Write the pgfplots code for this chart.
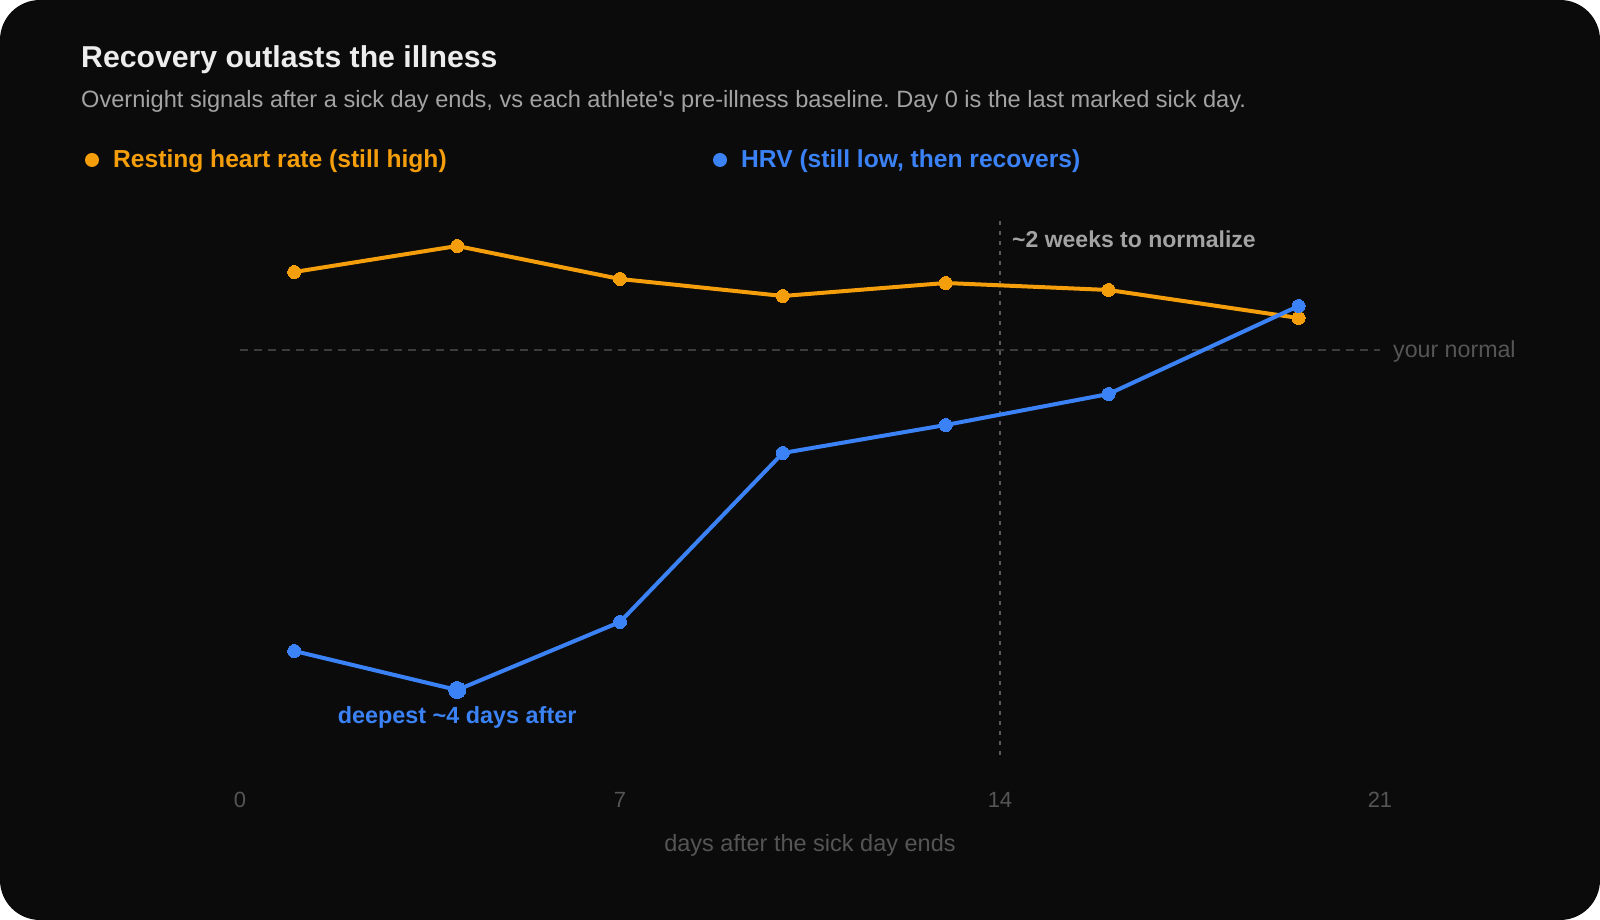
\documentclass[border=0pt]{standalone}
\usepackage{pgfplots}
\pgfplotsset{compat=1.18}
\usepackage{fontspec}
\setmainfont{Liberation Sans}
\frenchspacing

\definecolor{card}{HTML}{0B0B0B}
\definecolor{rhr}{HTML}{F59E0B}
\definecolor{hrv}{HTML}{3B82F6}
\definecolor{titlec}{HTML}{EDEDED}
\definecolor{subc}{HTML}{A3A3A3}
\definecolor{tickc}{HTML}{555555}
\definecolor{refline}{HTML}{3C3C3C}

% Overnight signals relative to baseline (0 = pre-illness normal)
\pgfplotstableread{
day  val
1    0.78
4    1.04
7    0.71
10   0.54
13   0.67
16   0.60
19.5 0.32
}\restinghr
\pgfplotstableread{
day  val
1    -3.01
4    -3.40
7    -2.72
10   -1.03
13   -0.75
16   -0.44
19.5  0.44
}\hrvdata

\begin{document}
\begin{tikzpicture}[x=1pt,y=1pt]
% card background
\fill[white] (0,0) rectangle (1600,920);
\fill[card, rounded corners=40pt] (0,0) rectangle (1600,920);

% title block
\node[anchor=base west, inner sep=0, text=titlec, font=\fontsize{30.2}{34}\selectfont\bfseries]
  at (81,852) {Recovery outlasts the illness};
\node[anchor=base west, inner sep=0, text=subc, font=\fontsize{23.6}{26}\selectfont]
  at (81,812) {Overnight signals after a sick day ends, vs each athlete\textquotesingle s pre-illness baseline. Day 0 is the last marked sick day.};

% legend
\fill[rhr] (92,760) circle (7);
\node[anchor=base west, inner sep=0, text=rhr, font=\fontsize{24.6}{28}\selectfont\bfseries]
  at (113,752) {Resting heart rate (still high)};
\fill[hrv] (720,760) circle (7);
\node[anchor=base west, inner sep=0, text=hrv, font=\fontsize{24.6}{28}\selectfont\bfseries]
  at (741,752) {HRV (still low, then recovers)};

\begin{axis}[
  at={(240pt,165pt)}, anchor=south west,
  scale only axis, width=1140pt, height=536pt,
  xmin=0, xmax=21, ymin=-4.05, ymax=1.31,
  axis line style={draw=none},
  major tick length=0pt,
  xtick={0,7,14,21}, ytick=\empty,
  /pgf/number format/assume math mode=true,
  xticklabel style={anchor=base, yshift=-53pt, text=tickc,
    font=\fontsize{22}{24}\selectfont},
  xlabel={days after the sick day ends},
  xlabel style={at={(axis description cs:0.5,0)}, anchor=base,
    yshift=-97pt, text=tickc, font=\fontsize{23.5}{26}\selectfont},
  clip=false,
]
% baseline and two-week marker
\draw[refline, line width=1.5pt, dash pattern=on 8pt off 6pt]
  (axis cs:0,0) -- (axis cs:21,0);
\draw[refline!85!white, line width=1.5pt, dash pattern=on 4pt off 6pt]
  (axis cs:14,-4.05) -- (axis cs:14,1.31);
\node[anchor=base west, inner sep=0, text=tickc, font=\fontsize{23.2}{26}\selectfont]
  at ([xshift=13pt, yshift=-8pt]axis cs:21,0) {your normal};
\node[anchor=base west, inner sep=0, text=subc, font=\fontsize{23}{26}\selectfont\bfseries]
  at ([xshift=12pt]axis cs:14,0) [yshift=102pt] {\textasciitilde 2 weeks to normalize};

\addplot[rhr, line width=4pt, mark=*, mark size=6.5pt, mark options={fill=rhr, draw=rhr, line width=0pt}]
  table[x=day, y=val] {\restinghr};
\addplot[hrv, line width=4pt, mark=*, mark size=6.5pt, mark options={fill=hrv, draw=hrv, line width=0pt}]
  table[x=day, y=val] {\hrvdata};
% lowest HRV night
\addplot[only marks, mark=*, mark size=8.5pt, mark options={fill=hrv, draw=hrv, line width=0pt}]
  coordinates {(4,-3.40)};
\node[anchor=base, inner sep=0, text=hrv, font=\fontsize{23.4}{26}\selectfont\bfseries]
  at ([yshift=-34pt]axis cs:4,-3.40) {deepest \textasciitilde 4 days after};
\end{axis}
\end{tikzpicture}
\end{document}
